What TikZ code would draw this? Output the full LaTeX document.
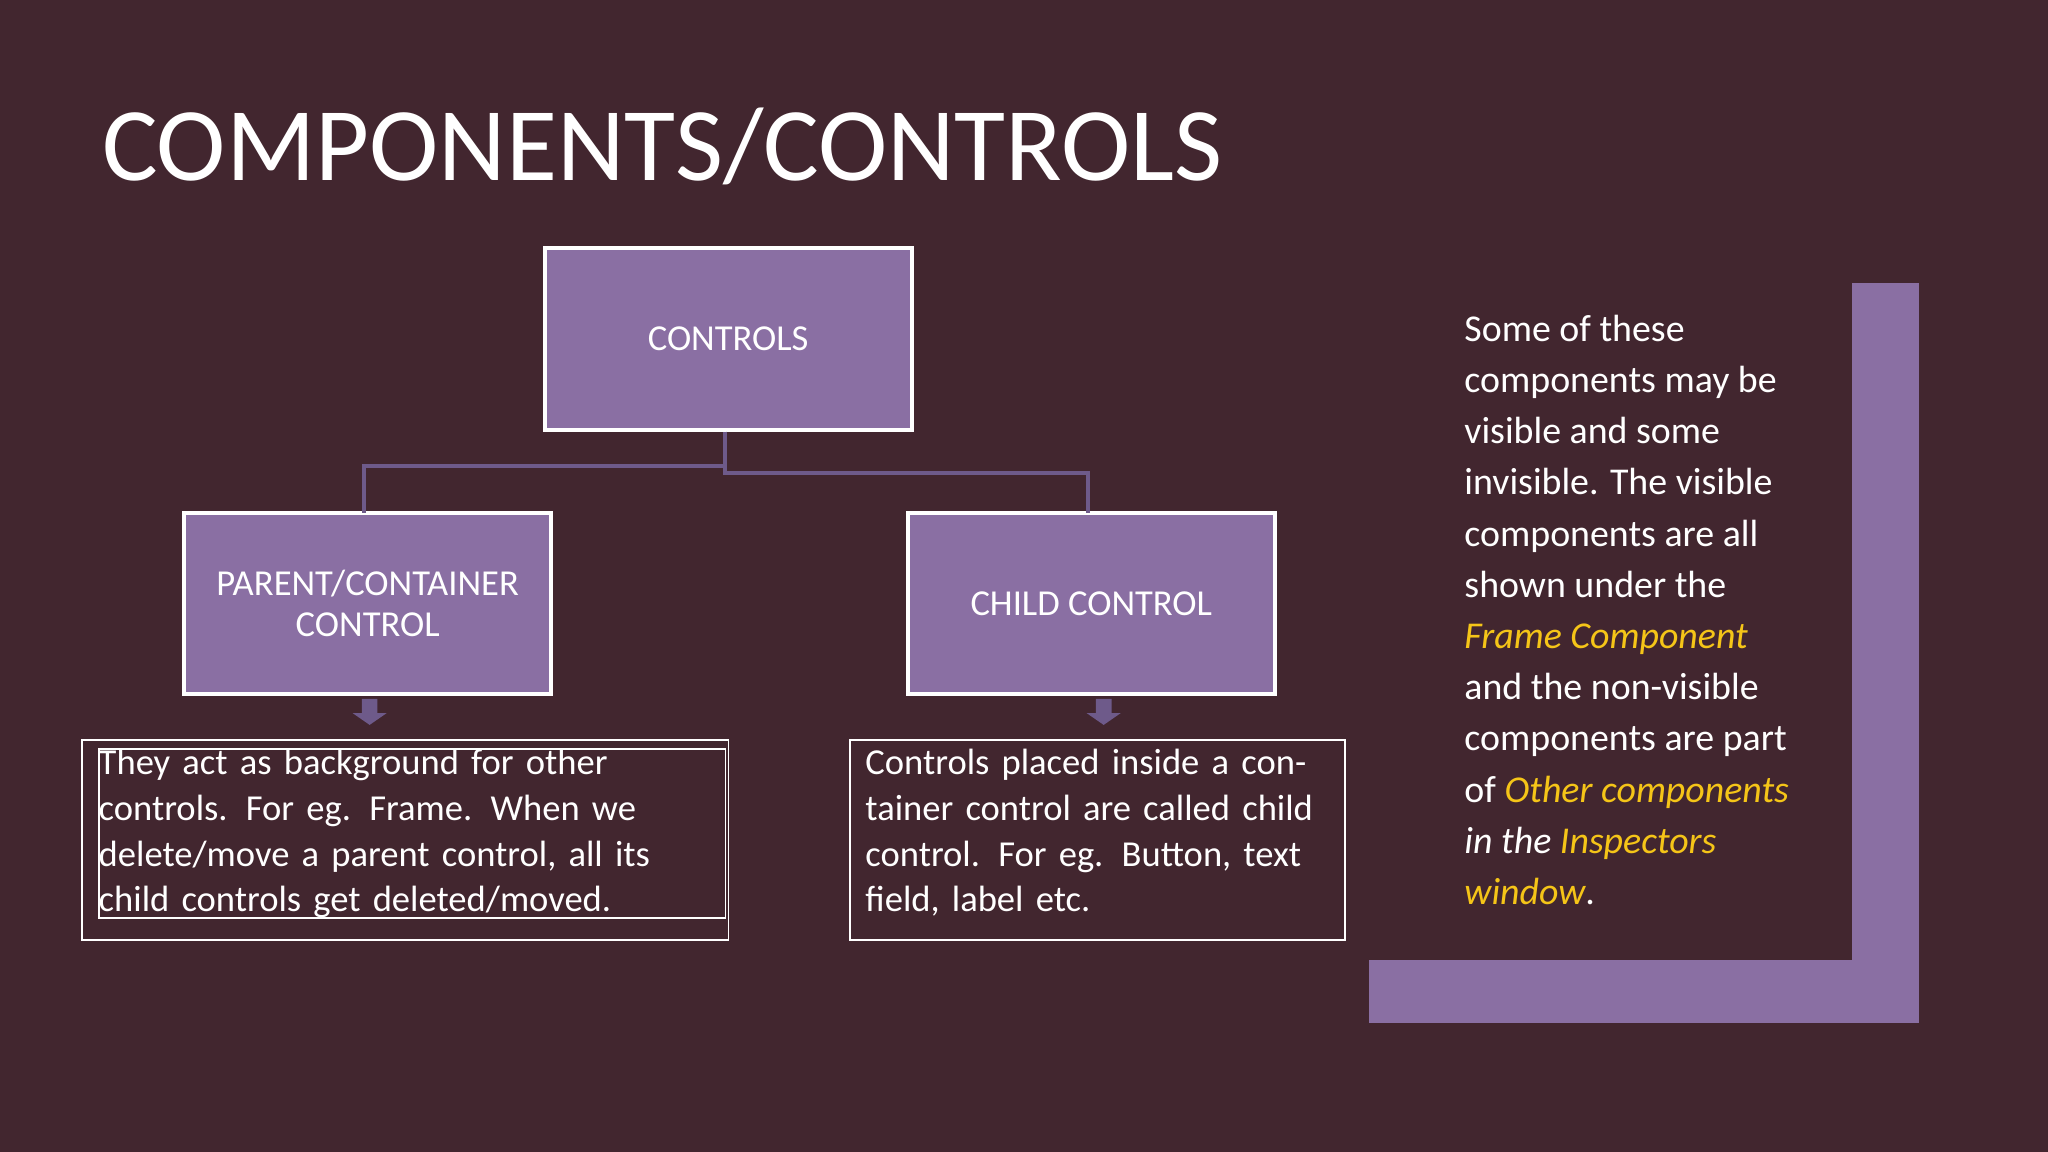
\documentclass[tikz,border=0pt]{standalone}
\usepackage{fontspec}
\setmainfont{Carlito}
\definecolor{bg}{HTML}{42262F}
\definecolor{boxp}{HTML}{8A6FA3}
\definecolor{linep}{HTML}{6E5A8A}
\definecolor{yel}{HTML}{F5C518}
\tikzset{
 pbox/.style={draw=white,line width=3pt,fill=boxp,text=white,align=center,font=\fontsize{28}{32}\selectfont,inner sep=0pt},
 tbox/.style={draw=white,line width=1.2pt,text=white,align=left,font=\fontsize{28}{35}\selectfont,anchor=north west,inner sep=0pt},
 conn/.style={linep,line width=3pt},
 darrow/.style={fill=linep}
}
\begin{document}
\begin{tikzpicture}[x=1pt,y=-1pt]
\fill[bg] (0,0) rectangle (1568,882);
\useasboundingbox (0,0) rectangle (1568,882);
\node[anchor=base west,text=white,font=\fontsize{80}{80}\selectfont,inner sep=0pt] (title) at (78,138) {COMPONENTS/CONTROLS};
\node[pbox,minimum width=281pt,minimum height=139pt] (ctl) at (557.5,259.5) {CONTROLS};
\node[pbox,minimum width=281pt,minimum height=138pt] (par) at (281.5,462) {PARENT/CONTAINER\\CONTROL};
\node[pbox,minimum width=281pt,minimum height=138pt] (chi) at (835.5,462) {CHILD CONTROL};
\coordinate (j1) at (555,357);
\coordinate (j2) at (555,362);
\draw[conn] (ctl.south -| j1) -- (j1) -| (279,393);
\draw[conn] (ctl.south -| j2) -- (j2) -| (833,393);
\node[draw=white,line width=1.2pt,minimum width=495pt,minimum height=153pt,anchor=north west,inner sep=0pt] (lt) at (62,566) {};
\node[tbox,text width=480pt] (ltt) at (75,573) {They act as background for other controls. For eg. Frame. When we delete/move a parent control, all its child controls get deleted/moved.};
\node[draw=white,line width=1.2pt,minimum width=379pt,minimum height=153pt,anchor=north west,inner sep=0pt] (rt) at (650,566) {};
\node[tbox,draw=none,text width=370pt] (rtt) at (662,573) {Controls placed inside a container control are called child control. For eg. Button, text field, label etc.};
\foreach \x/\n in {283/a1,845/a2}{
 \fill[darrow] (\x-6,535) -- (\x+6,535) -- (\x+6,546) -- (\x+13,546) -- (\x,555) -- (\x-13,546) -- (\x-6,546) -- cycle;
}
\fill[boxp] (1418,217) rectangle (1469,783);
\fill[boxp] (1048,735) rectangle (1469,783);
\node[anchor=north west,text=white,align=left,inner sep=0pt,font=\fontsize{29}{39.2}\selectfont] (side) at (1121,241) {Some of these\\components may be\\visible and some\\invisible. The visible\\components are all\\shown under the\\\textcolor{yel}{\itshape Frame Component}\\and the non-visible\\components are part\\of \textcolor{yel}{\itshape Other components}\\\textit{in the} \textcolor{yel}{\itshape Inspectors}\\\textcolor{yel}{\itshape window}.};
\end{tikzpicture}
\end{document}
